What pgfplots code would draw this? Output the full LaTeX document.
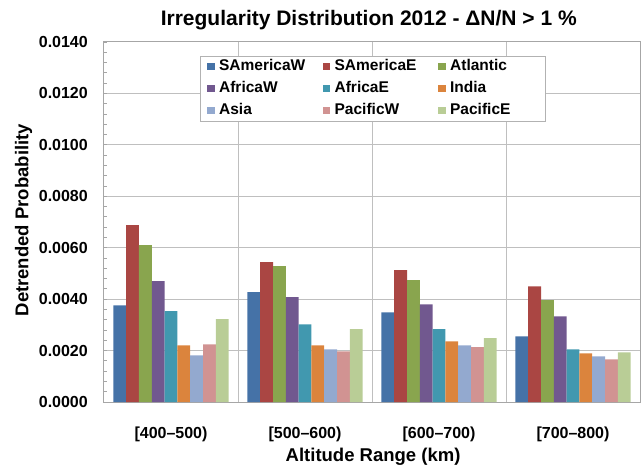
\documentclass[border=0pt]{standalone}
\usepackage{pgfplots}
\pgfplotsset{compat=1.18}
\usepackage{fontspec}
\setmainfont{Liberation Sans}

\definecolor{cSAW}{HTML}{4572A7}
\definecolor{cSAE}{HTML}{AA4643}
\definecolor{cATL}{HTML}{89A54E}
\definecolor{cAFW}{HTML}{71588F}
\definecolor{cAFE}{HTML}{4198AF}
\definecolor{cIND}{HTML}{DB843D}
\definecolor{cASI}{HTML}{93A9CF}
\definecolor{cPCW}{HTML}{D19392}
\definecolor{cPCE}{HTML}{B9CD96}

% fixed legend column widths
\newcommand\lcell[1]{\makebox[103.7pt][l]{#1}}
\newcommand\rcell[1]{\makebox[88pt][l]{#1}}

\pgfplotsset{
  mybar/.style={fill=#1, draw=none,
    legend image code/.code={\fill[##1] (0pt,-3.65pt) rectangle (7.3pt,3.65pt);}},
}

\begin{document}
\begin{tikzpicture}
\begin{axis}[
    name=ax,
    scale only axis,
    width=536pt, height=360pt,
    ybar=0pt, bar width=12.8pt,
    xmin=-0.5, xmax=3.5,
    ymin=0, ymax=0.014,
    xtick={0,1,2,3},
    xticklabels={{[400–500)},{[500–600)},{[600–700)},{[700–800)}},
    x tick style={draw=none},
    extra x ticks={0.5,1.5,2.5},
    extra x tick labels={},
    extra x tick style={grid=major, major tick length=0pt},
    ytick={0,0.002,0.004,0.006,0.008,0.010,0.012,0.014},
    minor y tick num=4,
    ytick pos=left,
    ymajorgrids,
    grid style={gray!50, line width=1pt},
    axis line style={gray!70, line width=1pt},
    y tick style={gray!70, line width=0.8pt},
    major tick length=3pt, minor tick length=3pt,
    scaled y ticks=false,
    y tick label style={/pgf/number format/fixed, /pgf/number format/fixed zerofill,
      /pgf/number format/precision=4, /pgf/number format/assume math mode=true},
    tick label style={font=\bfseries\fontsize{16}{16}\selectfont},
    yticklabel style={anchor=east, inner sep=0pt, xshift=-16pt},
    xticklabel style={anchor=north, inner sep=0pt, yshift=-21.5pt},
    title={Irregularity Distribution 2012 - ΔN/N > 1 \%},
    title style={at={(0.494,1.045)}, anchor=center,
      font=\bfseries\fontsize{21}{21}\selectfont},
    xlabel={Altitude Range (km)},
    xlabel style={at={(0.502,-0.152)}, anchor=center,
      font=\bfseries\fontsize{18.5}{18.5}\selectfont},
    ylabel={Detrended Probability},
    ylabel style={at={(-0.150,0.505)}, anchor=center,
      font=\bfseries\fontsize{18.5}{18.5}\selectfont},
    legend columns=3,
    legend style={at={(0.179,0.961)}, anchor=north west,
      draw=gray!60, line width=0.8pt, fill=white,
      inner xsep=7pt, inner ysep=3pt,
      font=\bfseries\fontsize{15.5}{15.5}\selectfont,
      nodes={inner sep=0pt, text height=11.5pt, text depth=3pt},
      column sep=0pt, row sep=7.5pt,
      /tikz/every odd column/.append style={column sep=4.5pt}},
  ]
  \addplot[mybar=cSAW] coordinates {(0,0.00376) (1,0.00427) (2,0.00349) (3,0.00255)};
  \addlegendentry{\lcell{SAmericaW}}
  \addplot[mybar=cSAE] coordinates {(0,0.00688) (1,0.00544) (2,0.00513) (3,0.00450)};
  \addlegendentry{\lcell{SAmericaE}}
  \addplot[mybar=cATL] coordinates {(0,0.00610) (1,0.00528) (2,0.00474) (3,0.00396)};
  \addlegendentry{\rcell{Atlantic}}
  \addplot[mybar=cAFW] coordinates {(0,0.00470) (1,0.00408) (2,0.00380) (3,0.00333)};
  \addlegendentry{\lcell{AfricaW}}
  \addplot[mybar=cAFE] coordinates {(0,0.00353) (1,0.00302) (2,0.00283) (3,0.00205)};
  \addlegendentry{\lcell{AfricaE}}
  \addplot[mybar=cIND] coordinates {(0,0.00220) (1,0.00220) (2,0.00236) (3,0.00189)};
  \addlegendentry{\rcell{India}}
  \addplot[mybar=cASI] coordinates {(0,0.00181) (1,0.00205) (2,0.00220) (3,0.00177)};
  \addlegendentry{\lcell{Asia}}
  \addplot[mybar=cPCW] coordinates {(0,0.00224) (1,0.00197) (2,0.00213) (3,0.00166)};
  \addlegendentry{\lcell{PacificW}}
  \addplot[mybar=cPCE] coordinates {(0,0.00322) (1,0.00283) (2,0.00248) (3,0.00193)};
  \addlegendentry{\rcell{PacificE}}
\end{axis}
\pgfresetboundingbox
\path ([xshift=-104pt,yshift=-64pt]ax.south west) rectangle ([xshift=1pt,yshift=42pt]ax.north east);
\end{tikzpicture}
\end{document}
